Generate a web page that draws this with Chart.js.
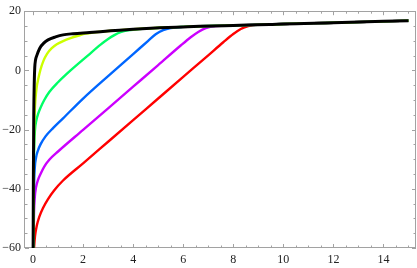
<!DOCTYPE html>
<html>
<head>
<meta charset="utf-8">
<script src="https://cdn.jsdelivr.net/npm/chart.js@4/dist/chart.umd.min.js"></script>
<style>
  html, body { margin: 0; padding: 0; background: #fff; }
  #wrap { width: 417px; height: 268px; }
</style>
</head>
<body>
<div id="wrap"><canvas id="plot"></canvas></div>
<script>
// values
const xTicks = [0, 2, 4, 6, 8, 10, 12, 14];
const yTicks = [-60, -40, -20, 0, 20];

const blackX = [0.005, 0.015, 0.03, 0.05, 0.07, 0.1, 0.15, 0.27, 0.45, 0.6, 0.9, 1.2, 1.6, 2.26, 3.0, 3.46, 4.0, 5.06, 6.0, 6.65, 8.0, 9.45, 10.0, 12.0, 15.0];
const blackY = [-60, -35, -15, -4, 1, 3.5, 5, 7.5, 9.4, 10.3, 11.3, 12, 12.4, 12.8, 13.3, 13.6, 13.9, 14.4, 14.7, 14.9, 15.2, 15.5, 15.7, 16.1, 16.8];

const yellowX = [0.01, 0.03, 0.06, 0.1, 0.15, 0.22, 0.3, 0.42, 0.56, 0.75, 0.95, 1.2, 1.5, 1.8, 2.1];
const yellowY = [-60, -30, -16, -9.5, -5.5, -2.5, 0.3, 3.3, 5.6, 7.5, 8.8, 9.9, 10.9, 11.7, 12.4];

const greenX = [0.015, 0.03, 0.05, 0.08, 0.13, 0.2, 0.3, 0.45, 0.65, 1.0, 1.5, 2.2, 2.7, 3.0, 3.25, 3.5, 3.8];
const greenY = [-60, -35, -25, -20, -17, -14.8, -12.6, -10, -7.3, -4, 0, 5.1, 8.7, 10.6, 11.9, 12.9, 13.5];

const blueX = [0.015, 0.04, 0.07, 0.12, 0.2, 0.3, 0.5, 0.8, 1.2, 2.0, 3.0, 4.0, 4.6, 4.9, 5.2, 5.5];
const blueY = [-60, -40, -33, -29.5, -27, -25, -22.3, -19.5, -16.2, -9.5, -1.9, 5.5, 10, 12.2, 13.6, 14.3];

const purpleX = [0.015, 0.04, 0.07, 0.12, 0.2, 0.3, 0.45, 0.65, 1.0, 2.0, 3.0, 4.0, 5.0, 5.9, 6.3, 6.6, 6.9, 7.3];
const purpleY = [-60, -48, -43, -39.5, -37, -35, -32.5, -30.2, -27.4, -20.1, -12.8, -5.5, 1.8, 8.4, 11.2, 13, 14.3, 15.0];

const redX = [0.04, 0.08, 0.15, 0.25, 0.4, 0.6, 0.85, 1.2, 2.0, 3.0, 4.0, 5.0, 6.0, 7.0, 7.6, 8.0, 8.3, 8.6, 9.0];
const redY = [-60, -56, -52.5, -49.5, -46.5, -43.5, -40.5, -37.2, -31.4, -24.1, -16.8, -9.5, -2.2, 5.1, 9.5, 12.3, 14.0, 15.0, 15.45];

// each coloured curve runs on under the black one once they meet
function curve(xs, ys, followBlack) {
    const pts = xs.map((x, i) => ({ x: x, y: ys[i] }));
    if (followBlack) {
        const last = xs[xs.length - 1];
        blackX.forEach((x, i) => { if (x > last + 0.2) pts.push({ x: x, y: blackY[i] }); });
    }
    return pts;
}

function line(label, pts, color, width) {
    return {
        label: label,
        data: pts,
        borderColor: color,
        borderWidth: width,
        pointRadius: 0,
        showLine: true,
        fill: false,
        cubicInterpolationMode: 'monotone'
    };
}

const frameColor = '#a2a2a2';

// Mathematica-like frame with inward ticks on all four sides
const framePlugin = {
    id: 'frame',
    beforeDatasetsDraw(chart) {
        const { ctx, chartArea, scales } = chart;
        const { left, right, top, bottom } = chartArea;
        ctx.save();
        ctx.strokeStyle = frameColor;
        ctx.lineWidth = 1;
        ctx.strokeRect(Math.round(left) - 0.5, Math.round(top) + 0.5,
            Math.round(right) - Math.round(left), Math.round(bottom) - Math.round(top) - 1);
        ctx.beginPath();
        for (let v = 0; v <= 15; v += 0.5) {
            const px = Math.round(scales.x.getPixelForValue(v)) + 0.5;
            const len = v % 2 === 0 ? 4 : 2.5;
            ctx.moveTo(px, bottom); ctx.lineTo(px, bottom - len);
            ctx.moveTo(px, top); ctx.lineTo(px, top + len);
        }
        for (let v = -60; v <= 20; v += 5) {
            const py = Math.round(scales.y.getPixelForValue(v)) + 0.5;
            const len = v % 20 === 0 ? 4 : 2.5;
            ctx.moveTo(left, py); ctx.lineTo(left + len, py);
            ctx.moveTo(right, py); ctx.lineTo(right - len, py);
        }
        ctx.stroke();
        ctx.restore();
    }
};

const fmt = v => (v < 0 ? '\u2212' + Math.abs(v) : String(v));

new Chart(document.getElementById('plot'), {
    type: 'scatter',
    data: {
        datasets: [
            line('black', curve(blackX, blackY, false), '#000000', 3),
            line('yellow', curve(yellowX, yellowY, true), '#ccff00', 2.4),
            line('green', curve(greenX, greenY, true), '#00ff66', 2.4),
            line('blue', curve(blueX, blueY, true), '#0066ff', 2.4),
            line('purple', curve(purpleX, purpleY, true), '#cc00ff', 2.4),
            line('red', curve(redX, redY, true), '#ff0000', 2.4)
        ]
    },
    options: {
        responsive: true,
        maintainAspectRatio: false,
        animation: false,
        layout: { padding: { top: 7, right: 1, left: 0, bottom: 0 } },
        plugins: {
            legend: { display: false },
            tooltip: { enabled: false }
        },
        scales: {
            x: {
                type: 'linear',
                min: -0.32,
                max: 15.3,
                grid: { display: false, drawTicks: false },
                border: { display: false },
                afterBuildTicks: scale => { scale.ticks = xTicks.map(v => ({ value: v })); },
                afterFit: scale => { scale.height = 20; },
                ticks: {
                    padding: 5,
                    color: '#222',
                    font: { family: 'Liberation Serif', size: 12 },
                    maxRotation: 0,
                    callback: fmt
                }
            },
            y: {
                type: 'linear',
                min: -60,
                max: 20,
                grid: { display: false, drawTicks: false },
                border: { display: false },
                afterBuildTicks: scale => { scale.ticks = yTicks.map(v => ({ value: v })); },
                afterFit: scale => { scale.width = 25; },
                ticks: {
                    padding: 4,
                    color: '#222',
                    font: { family: 'Liberation Serif', size: 12 },
                    callback: fmt
                }
            }
        }
    },
    plugins: [framePlugin]
});
</script>
</body>
</html>
